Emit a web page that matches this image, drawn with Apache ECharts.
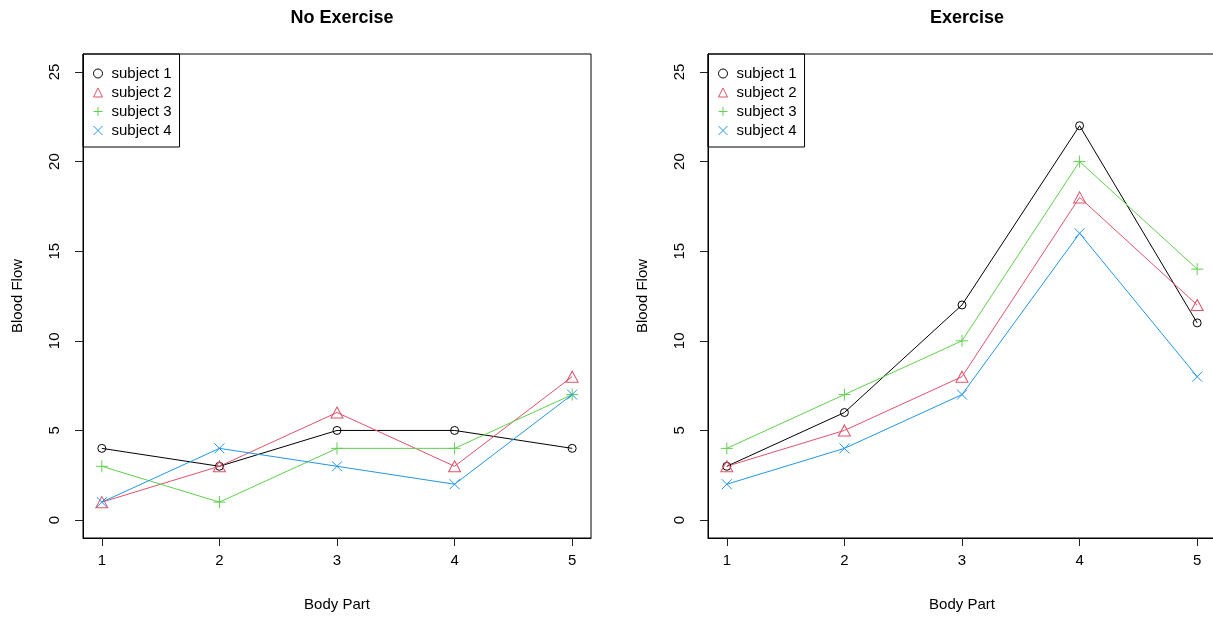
<!DOCTYPE html>
<html>
<head>
<meta charset="utf-8">
<script src="https://cdn.jsdelivr.net/npm/echarts@6/dist/echarts.min.js"></script>
<style>
  html, body { margin: 0; padding: 0; background: #fff; overflow: hidden; }
  #chart { width: 1216px; height: 617px; }
</style>
</head>
<body>
<div id="chart"></div>
<script>
// body parts on x
const bodyParts = [1, 2, 3, 4, 5]
const yTicks = [0, 5, 10, 15, 20, 25]
const subjects = ['subject 1', 'subject 2', 'subject 3', 'subject 4']

// No Exercise
const noEx1 = [4, 3, 5, 5, 4]
const noEx2 = [1, 3, 6, 3, 8]
const noEx3 = [3, 1, 4, 4, 7]
const noEx4 = [1, 4, 3, 2, 7]
// Exercise
const ex1 = [3, 6, 12, 22, 11]
const ex2 = [3, 5, 8, 18, 12]
const ex3 = [4, 7, 10, 20, 14]
const ex4 = [2, 4, 7, 16, 8]

const colors = ['#000000', '#DF536B', '#61D04F', '#2297E6']
const symbols = ['circle', 'triangle', 'path://M5,0L5,10M0,5L10,5', 'path://M0,0L10,10M0,10L10,0']
const symSize = [8, [12, 11], 12, 10]
const font = 'Liberation Sans, Arial, sans-serif'

const pairs = (vals) => bodyParts.map((x, i) => [x, vals[i]])

function makeSeries(list, gi) {
  return list.map((vals, i) => ({
    name: subjects[i],
    type: 'line',
    xAxisIndex: gi,
    yAxisIndex: gi,
    data: pairs(vals),
    symbol: symbols[i],
    symbolSize: symSize[i],
    lineStyle: { color: colors[i], width: 1 },
    itemStyle: { color: 'rgba(0,0,0,0)', borderColor: colors[i], borderWidth: 1 },
    emphasis: { disabled: true },
    z: 3
  }))
}

function makeLegend(left) {
  return {
    left: left,
    top: 54,
    orient: 'vertical',
    padding: [10, 8, 7, 10],
    itemGap: 0,
    itemWidth: 9,
    itemHeight: 9,
    symbolKeepAspect: true,
    borderColor: '#000',
    borderWidth: 1,
    selectedMode: false,
    textStyle: { color: '#000', fontSize: 15, fontFamily: font, lineHeight: 19, padding: [0, 0, 0, 4] },
    data: subjects.map((s, i) => ({
      name: s,
      icon: symbols[i],
      itemStyle: { color: 'rgba(0,0,0,0)', borderColor: colors[i], borderWidth: 1 }
    }))
  }
}

function xAxisFor(gi) {
  return {
    type: 'value',
    gridIndex: gi,
    position: 'bottom',
    min: 0.84,
    max: 5.16,
    name: 'Body Part',
    nameLocation: 'middle',
    nameGap: 59,
    nameTextStyle: { color: '#000', fontSize: 15, fontFamily: font },
    axisLine: { show: true, onZero: false, lineStyle: { color: '#000', width: 1 } },
    axisTick: { show: true, inside: false, length: 8, customValues: bodyParts, lineStyle: { color: '#222', width: 1 } },
    axisLabel: { color: '#000', fontSize: 15, fontFamily: font, margin: 15, customValues: bodyParts },
    splitLine: { show: false }
  }
}

function yAxisFor(gi) {
  return {
    type: 'value',
    gridIndex: gi,
    position: 'left',
    min: -1,
    max: 26,
    name: 'Blood Flow',
    nameLocation: 'middle',
    nameRotate: 90,
    nameGap: 58,
    nameTextStyle: { color: '#000', fontSize: 15, fontFamily: font },
    axisLine: { show: true, onZero: false, lineStyle: { color: '#000', width: 1 } },
    axisTick: { show: true, inside: false, length: 8, customValues: yTicks, lineStyle: { color: '#222', width: 1 } },
    axisLabel: { color: '#000', fontSize: 15, fontFamily: font, rotate: 90, margin: 21, customValues: yTicks },
    splitLine: { show: false }
  }
}

const myChart = echarts.init(document.getElementById('chart'))
const option = {
  animation: false,
  backgroundColor: '#fff',
  title: [
    { text: 'No Exercise', left: 337, top: 4, textAlign: 'center',
      textStyle: { fontSize: 18, fontWeight: 'bold', color: '#000', fontFamily: font } },
    { text: 'Exercise', left: 962, top: 4, textAlign: 'center',
      textStyle: { fontSize: 18, fontWeight: 'bold', color: '#000', fontFamily: font } }
  ],
  legend: [makeLegend(83), makeLegend(708)],
  grid: [
    { left: 83, top: 54, width: 508, height: 485, show: true, borderColor: '#000', borderWidth: 1 },
    { left: 708, top: 54, width: 508, height: 485, show: true, borderColor: '#000', borderWidth: 1 }
  ],
  xAxis: [xAxisFor(0), xAxisFor(1)],
  yAxis: [yAxisFor(0), yAxisFor(1)],
  series: [
    ...makeSeries([noEx1, noEx2, noEx3, noEx4], 0),
    ...makeSeries([ex1, ex2, ex3, ex4], 1)
  ]
}
myChart.setOption(option)
</script>
</body>
</html>
